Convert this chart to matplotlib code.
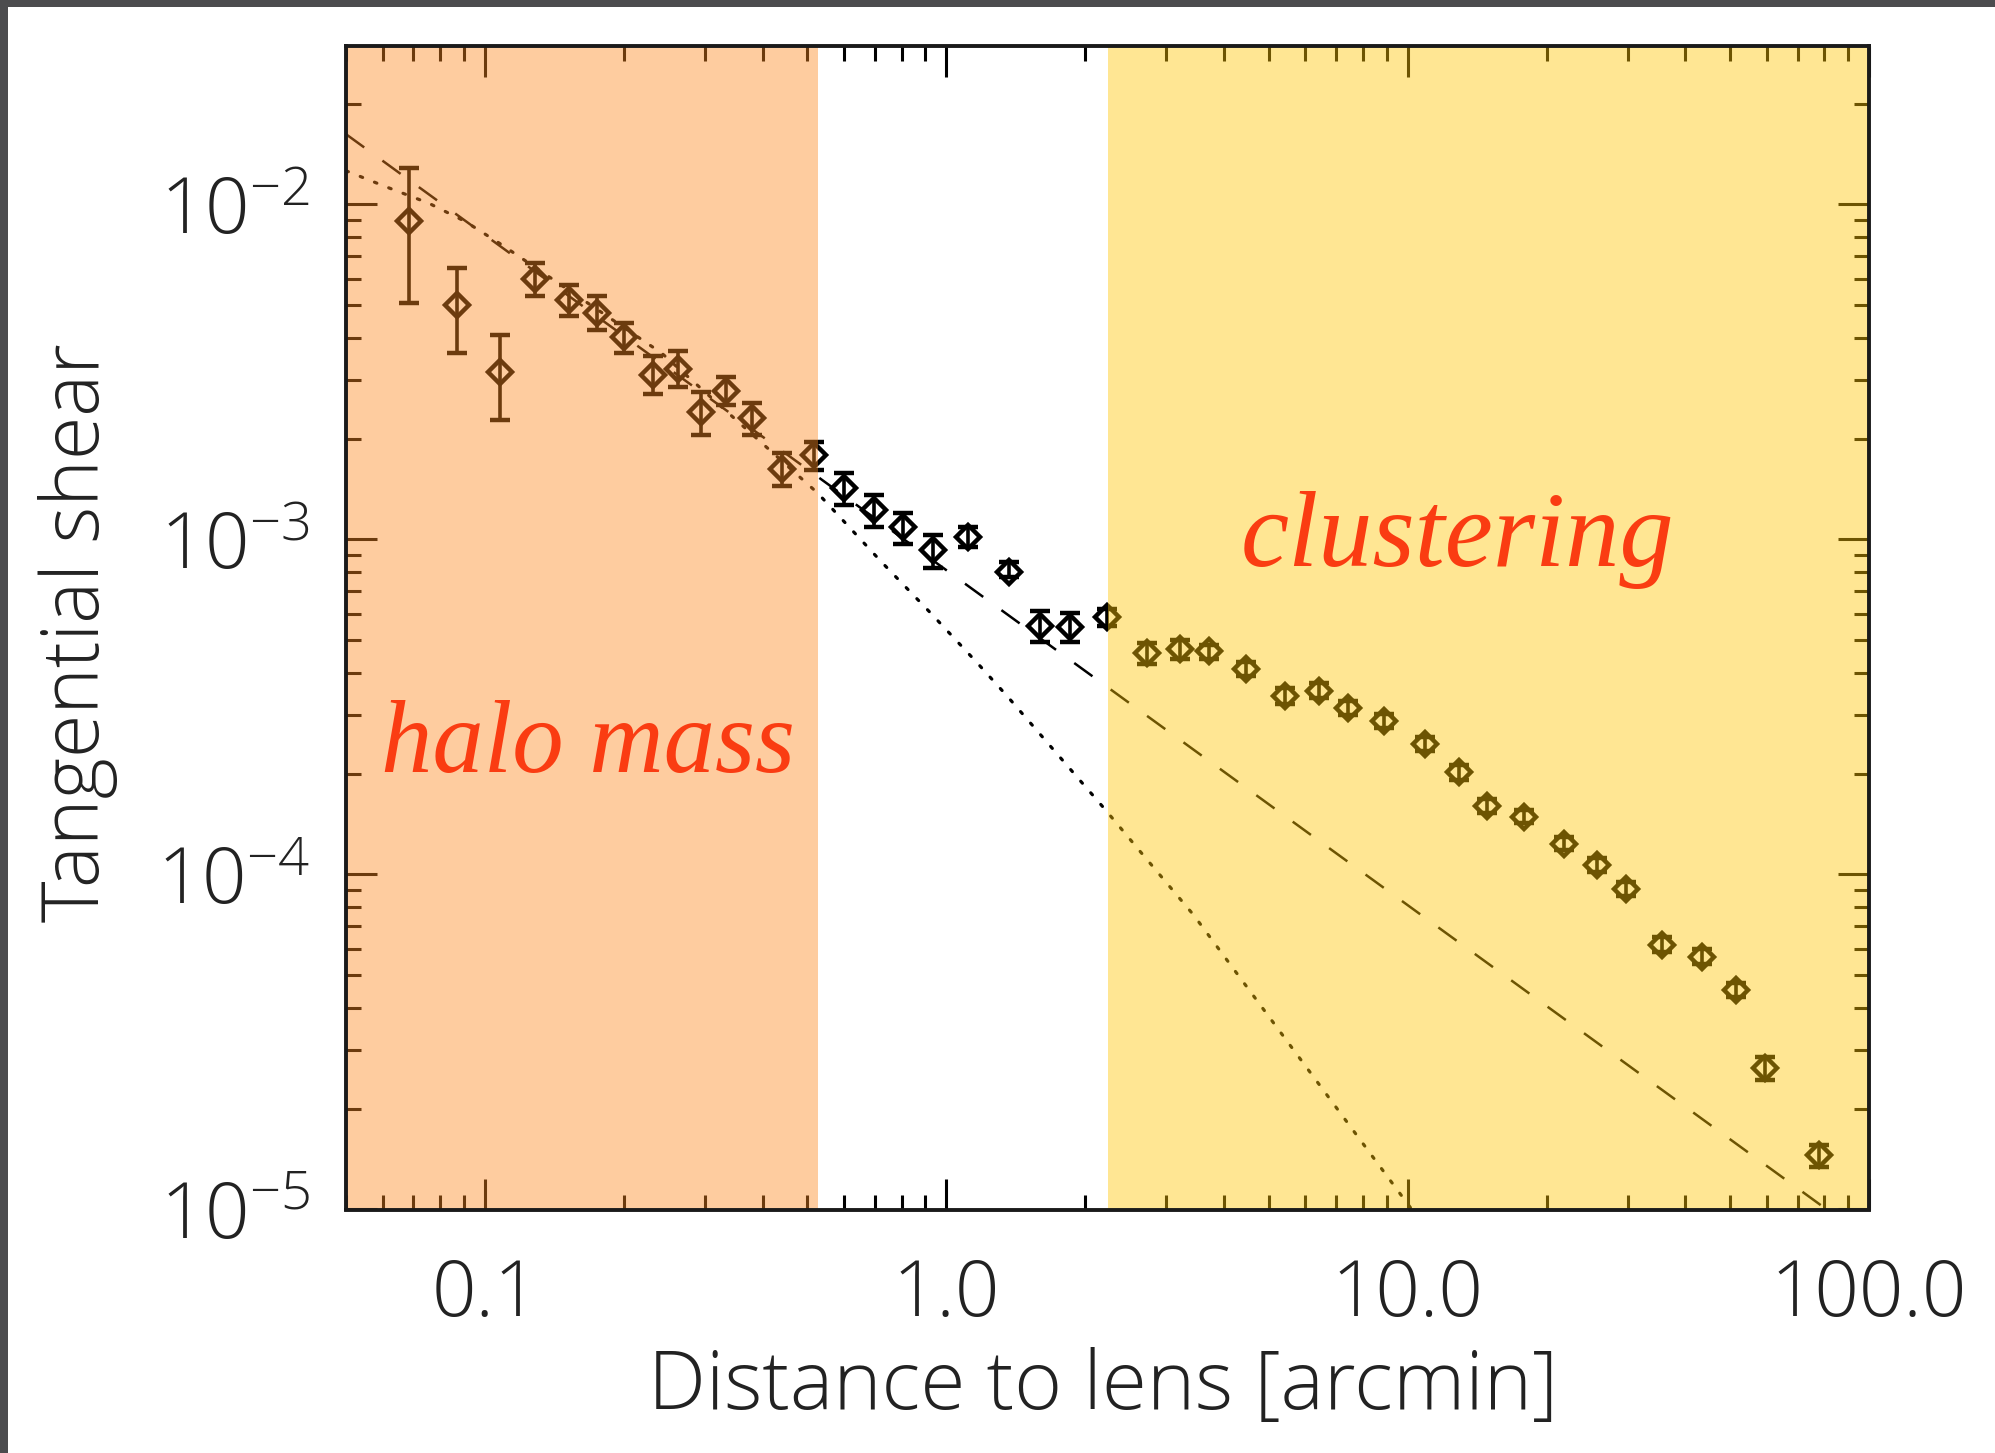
import matplotlib
matplotlib.use("Agg")
import numpy as np
import matplotlib.pyplot as plt
from matplotlib.patches import Rectangle
from matplotlib.ticker import FixedLocator, FixedFormatter, LogLocator, NullFormatter

# ---- measured tangential shear profile --------------------------------------
theta = [0.0684, 0.0870, 0.108, 0.1285, 0.1518, 0.1747, 0.2006, 0.2317, 0.2625,
         0.2937, 0.3326, 0.3793, 0.4404, 0.5157, 0.6013, 0.6965, 0.8044, 0.934,
         1.115, 1.368, 1.599, 1.856, 2.236, 2.729, 3.21, 3.708, 4.467, 5.433,
         6.435, 7.408, 8.908, 10.91, 12.92, 14.83, 17.85, 21.79, 25.72, 29.73,
         35.56, 43.52, 51.4, 59.4, 78.1]
shear = [8.93e-3, 5.01e-3, 3.17e-3, 5.98e-3, 5.19e-3, 4.73e-3, 4.03e-3, 3.10e-3,
         3.22e-3, 2.40e-3, 2.78e-3, 2.31e-3, 1.62e-3, 1.79e-3, 1.42e-3, 1.225e-3,
         1.087e-3, 9.30e-4, 1.019e-3, 8.01e-4, 5.53e-4, 5.49e-4, 5.86e-4, 4.57e-4,
         4.70e-4, 4.63e-4, 4.10e-4, 3.41e-4, 3.54e-4, 3.15e-4, 2.88e-4, 2.45e-4,
         2.02e-4, 1.604e-4, 1.488e-4, 1.233e-4, 1.067e-4, 9.03e-5, 6.16e-5,
         5.68e-5, 4.52e-5, 2.65e-5, 1.45e-5]
shear_hi = [1.283e-2, 6.45e-3, 4.08e-3, 6.68e-3, 5.75e-3, 5.31e-3, 4.44e-3, 3.53e-3,
            3.64e-3, 2.76e-3, 3.06e-3, 2.55e-3, 1.81e-3, 1.96e-3, 1.58e-3, 1.358e-3,
            1.202e-3, 1.031e-3, 1.09e-3, 8.58e-4, 6.13e-4, 6.02e-4, 6.2e-4, 4.9e-4,
            5.0e-4, 4.85e-4, 4.3e-4, 3.6e-4, 3.72e-4, 3.3e-4, 3.02e-4, 2.57e-4,
            2.12e-4, 1.68e-4, 1.56e-4, 1.29e-4, 1.12e-4, 9.5e-5, 6.5e-5, 6.0e-5,
            4.75e-5, 2.86e-5, 1.56e-5]
shear_lo = [5.07e-3, 3.60e-3, 2.27e-3, 5.33e-3, 4.63e-3, 4.22e-3, 3.60e-3, 2.72e-3,
            2.86e-3, 2.05e-3, 2.52e-3, 2.05e-3, 1.44e-3, 1.61e-3, 1.27e-3, 1.087e-3,
            9.70e-4, 8.20e-4, 9.48e-4, 7.71e-4, 4.95e-4, 4.95e-4, 5.5e-4, 4.26e-4,
            4.4e-4, 4.4e-4, 3.9e-4, 3.22e-4, 3.36e-4, 3.0e-4, 2.74e-4, 2.33e-4,
            1.92e-4, 1.53e-4, 1.42e-4, 1.18e-4, 1.02e-4, 8.6e-5, 5.85e-5, 5.4e-5,
            4.3e-5, 2.44e-5, 1.34e-5]

# ---- model curves ------------------------------------------------------------
sis_x = [0.05, 81.0]
sis_y = [0.0162, 1.0e-5]
nfw_x = [0.05, 0.0609, 0.0756, 0.0907, 0.1089, 0.2415, 0.5267, 0.7224, 0.9262,
         1.169, 1.357, 2.214, 2.635, 3.436, 10.21]
nfw_y = [0.0126, 0.0113, 0.01008, 0.00889, 0.00757, 0.0036, 0.001374, 8.59e-4,
         6.02e-4, 4.27e-4, 3.40e-4, 1.558e-4, 1.169e-4, 7.57e-5, 1.0e-5]

# ---- regimes -----------------------------------------------------------------
halo_range = [0.05, 0.527]
clustering_range = [2.24, 100.0]

x_ticks = [0.1, 1.0, 10.0, 100.0]
x_tick_labels = ["0.1", "1.0", "10.0", "100.0"]

sans = ["Open Sans", "DejaVu Sans"]
plt.rcParams["font.family"] = sans
plt.rcParams["font.weight"] = "light"
plt.rcParams["mathtext.fontset"] = "custom"
plt.rcParams["mathtext.rm"] = "Open Sans:light"
plt.rcParams["mathtext.it"] = "Open Sans:italic:light"
plt.rcParams["mathtext.bf"] = "Open Sans:bold"
plt.rcParams["mathtext.default"] = "regular"

W, H = 1995, 1453
fig = plt.figure(figsize=(W / 100, H / 100), dpi=100)
fig.patch.set_facecolor("white")

# dark slide border along the top and left edges
fig.add_artist(Rectangle((0, 1 - 7 / H), 1, 7 / H, transform=fig.transFigure,
                         color="#4c4c4e", lw=0, zorder=10))
fig.add_artist(Rectangle((0, 0), 8 / W, 1, transform=fig.transFigure,
                         color="#4c4c4e", lw=0, zorder=10))

ax = fig.add_axes([346 / W, 1 - 1209.5 / H, (1869 - 346) / W, (1209.5 - 46) / H])
ax.set_xscale("log")
ax.set_yscale("log")
ax.set_xlim(0.05, 100.0)
ax.set_ylim(1.0e-5, 0.0297)

shear_a = np.array(shear)
yerr = [shear_a - np.array(shear_lo), np.array(shear_hi) - shear_a]
ax.errorbar(theta, shear, yerr=yerr, fmt="D", ms=12.5, mfc="none", mec="black",
            mew=3.2, ecolor="black", elinewidth=2.6, capsize=7, capthick=3.0,
            zorder=2)

ax.plot(sis_x, sis_y, color="black", lw=1.8, dashes=(9, 9), zorder=2)
ax.plot(nfw_x, nfw_y, color="black", lw=2.3, linestyle=(0, (0.8, 4)),
        dash_capstyle="round", zorder=2)

# translucent regime shading laid over the measurements
ax.axvspan(*halo_range, color=(253 / 255, 138 / 255, 34 / 255), alpha=0.43,
           lw=0, zorder=3)
ax.axvspan(*clustering_range, color=(1.0, 197 / 255, 5 / 255), alpha=0.43,
           lw=0, zorder=3)

label_color = "#FA3C12"
ax.text(0.0596, 2.02e-4, "halo mass", fontsize=74, style="italic",
        weight="normal", family=["Liberation Serif", "DejaVu Serif"],
        color=label_color, ha="left", va="baseline", zorder=5)
ax.text(4.35, 8.34e-4, "clustering", fontsize=78, style="italic",
        weight="normal", family=["Liberation Serif", "DejaVu Serif"],
        color=label_color, ha="left", va="baseline", zorder=5)

ax.xaxis.set_major_locator(FixedLocator(x_ticks))
ax.xaxis.set_major_formatter(FixedFormatter(x_tick_labels))
ax.xaxis.set_minor_locator(LogLocator(base=10, subs=np.arange(2, 10)))
ax.xaxis.set_minor_formatter(NullFormatter())
ax.yaxis.set_minor_formatter(NullFormatter())

ax.tick_params(which="both", direction="in", top=True, right=True,
               color="black", width=2.2)
ax.tick_params(which="major", length=22, labelsize=56, labelcolor="#222222")
ax.tick_params(which="minor", length=11)
ax.tick_params(axis="x", which="major", pad=34)
ax.tick_params(axis="y", which="major", pad=26)

for sp in ax.spines.values():
    sp.set_linewidth(2.8)
    sp.set_color("#1a1a1a")
    sp.set_zorder(4)

ax.set_xlabel("Distance to lens [arcmin]", fontsize=59, color="#222222",
              weight="light")
ax.set_ylabel("Tangential shear", fontsize=57, color="#222222", weight="light")
ax.xaxis.set_label_coords(0.497, -0.118)
ax.yaxis.set_label_coords(-0.150, 0.496)

fig.savefig("out.png", dpi=100)
